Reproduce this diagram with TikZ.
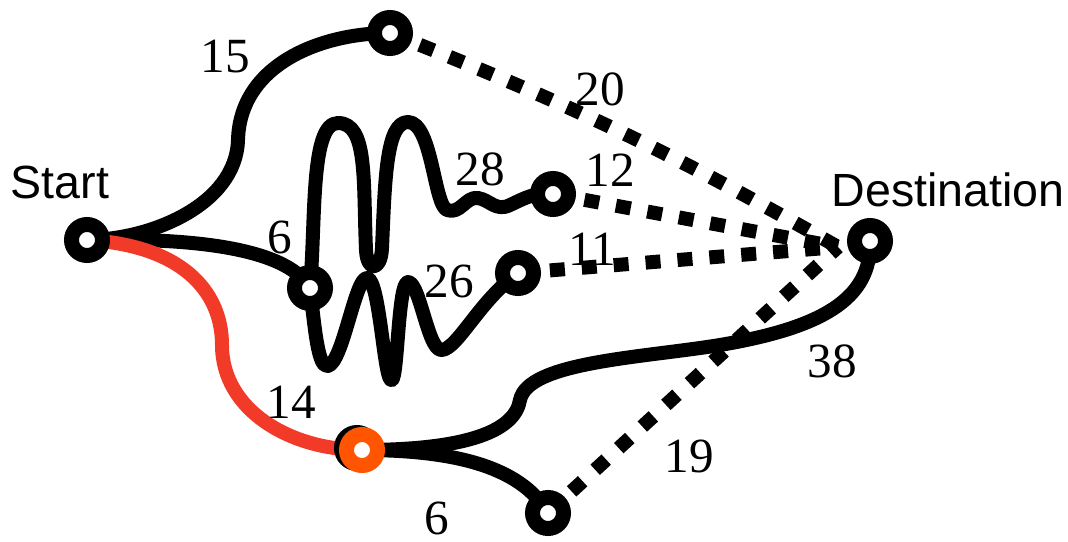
\documentclass[tikz,border=0pt]{standalone}
\usepackage{fontspec}
\setmainfont{Liberation Serif}
\newfontfamily\labsans{Liberation Sans}
\usetikzlibrary{backgrounds}
\definecolor{pathred}{RGB}{242,58,40}
\definecolor{hilite}{RGB}{255,85,0}
\begin{document}
\begin{tikzpicture}[x=0.02cm,y=-0.02cm,
  vert/.style={circle,draw=black,fill=white,line width=0.30cm,minimum size=0.62cm,inner sep=0pt},
  edge/.style={line width=0.28cm,line join=round},
  dashededge/.style={line width=0.28cm,dash pattern=on 0.3cm off 0.34cm},
  wt/.style={font=\fontsize{28}{30}\selectfont,inner sep=0pt},
  lbl/.style={font=\labsans\fontsize{26.5}{28}\selectfont,inner sep=0pt}]
\useasboundingbox (0,0) rectangle (1068,541);

% vertices
\node[vert] (Start) at (87,240) {};
\node[vert] (Top) at (390,33) {};
\node[vert] (N28) at (553,194) {};
\node[vert] (N6) at (310,288) {};
\node[vert] (N26) at (518,273) {};
\node[vert] (Oshadow) at (357,448) {};
\node[vert,draw=hilite] (Orange) at (362,450) {};
\node[vert] (Bottom) at (548,513) {};
\node[vert] (Dest) at (870,241) {};
\coordinate (conv) at (838,247);

% names
\node[lbl] (startlbl) at (60,182) {Start};
\node[lbl] (destlbl) at (948,190) {Destination};

% weights
\node[wt] (w15) at (225,57) {15};
\node[wt] (w20) at (600,89) {20};
\node[wt] (w28) at (480,169) {28};
\node[wt] (w12) at (610,170) {12};
\node[wt] (w6a) at (280,237) {6};
\node[wt] (w26) at (449,281) {26};
\node[wt] (w11) at (592,249) {11};
\node[wt] (w14) at (291,402) {14};
\node[wt] (w38) at (832,361) {38};
\node[wt] (w19) at (689,456) {19};
\node[wt] (w6b) at (437,518) {6};

\begin{pgfonlayer}{background}
\fill[white] (0,0) rectangle (1068,541);
% dashed edges
\draw[dashededge] (Top.center) to[bend left=4] (conv);
\draw[dashededge] (N28.center) -- (conv);
\draw[dashededge] (N26.center) -- (conv);
\draw[dashededge] (Bottom.center) -- (conv);
% solid edges
\draw[edge] (Start.center) .. controls (150,240) and (236,205) .. (238,140)
  .. controls (240,65) and (320,33) .. (Top.center);
\draw[edge] (Start.center) .. controls (180,238) and (285,245) .. (N6.center);
\draw[edge,pathred] (Start.center) .. controls (180,245) and (222,290) .. (222,345)
  .. controls (222,410) and (290,450) .. (Orange.center);
\draw[edge] (Orange.center) .. controls (470,450) and (515,430) .. (520,400)
  .. controls (528,362) and (640,358) .. (720,345)
  .. controls (820,328) and (872,300) .. (Dest.center);
\draw[edge] (Orange.center) .. controls (450,450) and (520,465) .. (Bottom.center);
% wiggly edges
\draw[edge] (N6.center) .. controls (316,220) and (310,123) .. (338,123)
  .. controls (368,123) and (363,180) .. (366,250)
  .. controls (367,272) and (381,272) .. (382,248)
  .. controls (385,180) and (386,122) .. (408,122)
  .. controls (432,122) and (434,205) .. (447,210)
  .. controls (460,215) and (466,196) .. (478,198)
  .. controls (490,200) and (496,212) .. (510,205)
  .. controls (525,198) and (535,192) .. (N28.center);
\draw[edge] (N6.center) .. controls (315,330) and (318,368) .. (328,366)
  .. controls (343,362) and (355,278) .. (367,278)
  .. controls (380,278) and (384,385) .. (392,380)
  .. controls (398,376) and (398,282) .. (408,282)
  .. controls (420,282) and (428,352) .. (442,350)
  .. controls (458,348) and (480,300) .. (N26.center);
\end{pgfonlayer}
\end{tikzpicture}
\end{document}
